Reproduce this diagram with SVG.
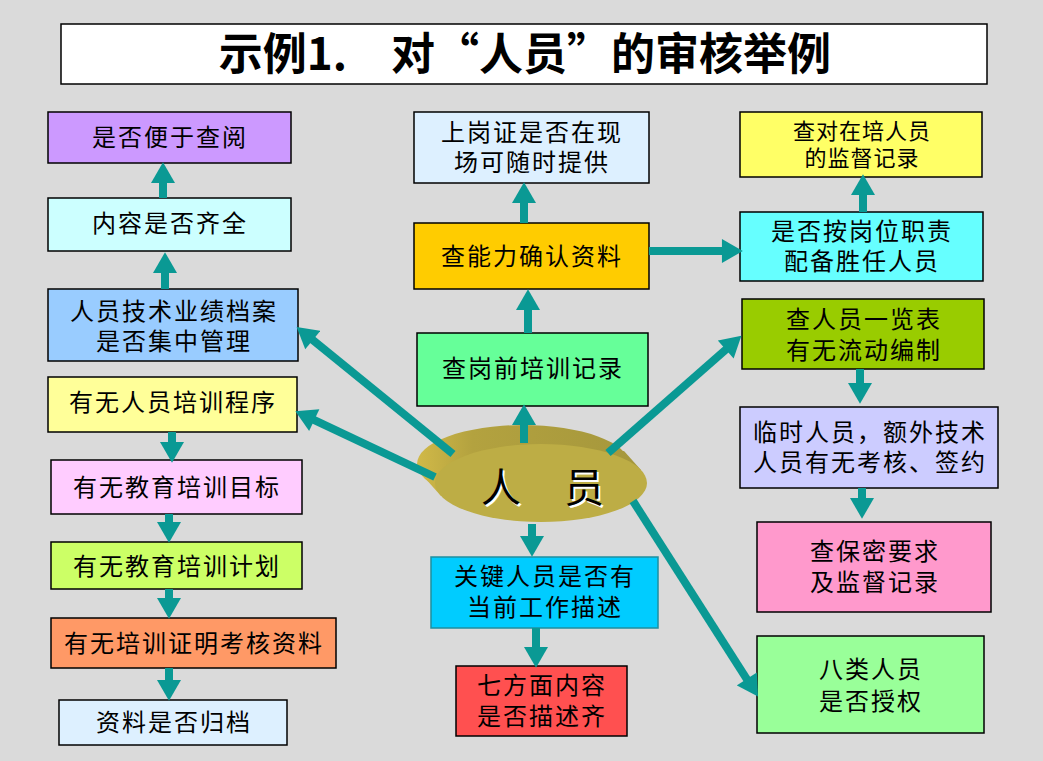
<svg xmlns="http://www.w3.org/2000/svg" width="1043" height="761" viewBox="0 0 1043 761">
<defs>
<style>
.bx{stroke:#000;stroke-width:1.5}
.t{font-family:"Liberation Sans","Noto Sans CJK SC",sans-serif;font-size:24px;letter-spacing:2px;fill:#000;text-anchor:middle}
.ts{font-size:22px;letter-spacing:1px}
.ar{stroke:#0A9994;stroke-width:8;fill:none;marker-end:url(#ah)}
</style>
<marker id="ah" markerUnits="userSpaceOnUse" markerWidth="22" markerHeight="24" refX="1" refY="11.5" orient="auto" viewBox="0 0 20 23">
<path d="M0,0 L20,11.5 L0,23 z" fill="#0A9994"/>
</marker>
<linearGradient id="rim" x1="417" y1="0" x2="640" y2="0" gradientUnits="userSpaceOnUse">
<stop offset="0" stop-color="#D1B948"/>
<stop offset="0.25" stop-color="#B3A23F"/>
<stop offset="1" stop-color="#A5973C"/>
</linearGradient>
</defs>
<rect width="1043" height="761" fill="#DADADA"/>
<g id="title">
<rect x="61" y="24" width="926" height="60" fill="#fff" stroke="#000" stroke-width="1.5"/>
<text x="525" y="70" style="font-family:'Noto Sans CJK SC',sans-serif;font-size:44px;font-weight:bold;text-anchor:middle">示例1.　对“人员”的审核举例</text>
</g>
<g id="n-bianyu"><rect class="bx" x="48" y="112" width="243" height="51" fill="#CC99FF"/><text class="t" x="170" y="146">是否便于查阅</text></g>
<g id="n-qiquan"><rect class="bx" x="48" y="198" width="243" height="53" fill="#CCFFFF"/><text class="t" x="170" y="232">内容是否齐全</text></g>
<g id="n-dangan"><rect class="bx" x="48" y="289" width="250" height="72" fill="#99CCFF"/><text class="t" x="174" y="320">人员技术业绩档案<tspan x="174" dy="30">是否集中管理</tspan></text></g>
<g id="n-chengxu"><rect class="bx" x="48" y="377" width="249" height="55" fill="#FFFF99"/><text class="t" x="173" y="411">有无人员培训程序</text></g>
<g id="n-mubiao"><rect class="bx" x="51" y="460" width="251" height="54" fill="#FFCCFF"/><text class="t" x="177" y="496">有无教育培训目标</text></g>
<g id="n-jihua"><rect class="bx" x="51" y="542" width="251" height="47" fill="#CCFF66"/><text class="t" x="177" y="575">有无教育培训计划</text></g>
<g id="n-zhengming"><rect class="bx" x="51" y="618" width="285" height="50" fill="#FF9966"/><text class="t" x="194" y="652">有无培训证明考核资料</text></g>
<g id="n-guidang"><rect class="bx" x="59" y="700" width="228" height="45" fill="#DDF0FF"/><text class="t" x="174" y="731">资料是否归档</text></g>
<g id="n-shanggang"><rect class="bx" x="414" y="112" width="235" height="71" fill="#DDF0FF"/><text class="t" x="532" y="141">上岗证是否在现<tspan x="532" dy="30">场可随时提供</tspan></text></g>
<g id="n-nengli"><rect class="bx" x="414" y="223" width="235" height="66" fill="#FFCC00"/><text class="t" x="532" y="265">查能力确认资料</text></g>
<g id="n-gangqian"><rect class="bx" x="417" y="333" width="231" height="73" fill="#66FF99"/><text class="t" x="533" y="377">查岗前培训记录</text></g>
<g id="n-renyuan">
<ellipse cx="523" cy="464" rx="106" ry="39" fill="url(#rim)"/>
<polygon points="641,470 624,451 424,477 441,496" fill="url(#rim)"/>
<ellipse cx="541" cy="483" rx="106" ry="39" fill="#BDAD45"/>
<g style="font-family:'Liberation Sans','Noto Sans CJK SC',sans-serif;font-size:40px;text-anchor:middle">
<text x="503" y="504" fill="#fff">人</text><text x="586" y="504" fill="#fff">员</text>
<text x="501" y="502" fill="#000">人</text><text x="584" y="502" fill="#000">员</text>
</g>
</g>
<g id="n-guanjian"><rect x="431" y="557" width="227" height="71" fill="#00CCFF" stroke="#1E8FA0" stroke-width="1.5"/><text class="t" x="545" y="585">关键人员是否有<tspan x="545" dy="31">当前工作描述</tspan></text></g>
<g id="n-qifangmian"><rect class="bx" x="456" y="666" width="171" height="70" fill="#FF5050"/><text class="t" x="542" y="694">七方面内容<tspan x="542" dy="31">是否描述齐</tspan></text></g>
<g id="n-zaipei"><rect class="bx" x="740" y="112" width="242" height="65" fill="#FFFF66"/><text class="t ts" x="862" y="139">查对在培人员<tspan x="862" dy="27">的监督记录</tspan></text></g>
<g id="n-gangwei"><rect class="bx" x="740" y="212" width="243" height="69" fill="#66FFFF"/><text class="t" x="862" y="240">是否按岗位职责<tspan x="862" dy="30">配备胜任人员</tspan></text></g>
<g id="n-yilan"><rect class="bx" x="742" y="299" width="242" height="70" fill="#99CC00"/><text class="t" x="864" y="328">查人员一览表<tspan x="864" dy="31">有无流动编制</tspan></text></g>
<g id="n-linshi"><rect class="bx" x="740" y="407" width="258" height="81" fill="#CCCCFF"/><text class="t" x="870" y="441">临时人员，额外技术<tspan x="870" dy="30">人员有无考核、签约</tspan></text></g>
<g id="n-baomi"><rect class="bx" x="757" y="522" width="234" height="90" fill="#FF99CC"/><text class="t" x="875" y="560">查保密要求<tspan x="875" dy="31">及监督记录</tspan></text></g>
<g id="n-balei"><rect class="bx" x="757" y="636" width="227" height="97" fill="#99FF99"/><text class="t" x="871" y="678">八类人员<tspan x="871" dy="32">是否授权</tspan></text></g>
<g id="connectors">
<line class="ar" x1="163" y1="198" x2="163" y2="182"/>
<line class="ar" x1="165" y1="289" x2="165" y2="272"/>
<line class="ar" x1="172" y1="432" x2="172" y2="443"/>
<line class="ar" x1="169" y1="514" x2="169" y2="523"/>
<line class="ar" x1="169" y1="589" x2="169" y2="599"/>
<line class="ar" x1="169" y1="668" x2="169" y2="681"/>
<line class="ar" x1="528" y1="333" x2="528" y2="309"/>
<line class="ar" x1="524" y1="223" x2="524" y2="202"/>
<line class="ar" x1="524" y1="443" x2="524" y2="424"/>
<line class="ar" x1="532" y1="524" x2="532" y2="537"/>
<line class="ar" x1="536" y1="628" x2="536" y2="648"/>
<line class="ar" x1="649" y1="251" x2="723" y2="251"/>
<line class="ar" x1="863" y1="212" x2="863" y2="194"/>
<line class="ar" x1="860" y1="369" x2="860" y2="384"/>
<line class="ar" x1="862" y1="488" x2="862" y2="499"/>
<line class="ar" x1="453" y1="454" x2="312" y2="339.4"/>
<line class="ar" x1="435" y1="477" x2="313.3" y2="419.7"/>
<line class="ar" x1="608" y1="453" x2="726.5" y2="348.9"/>
<line class="ar" x1="633" y1="501" x2="747.3" y2="679.8"/>
</g>
</svg>
